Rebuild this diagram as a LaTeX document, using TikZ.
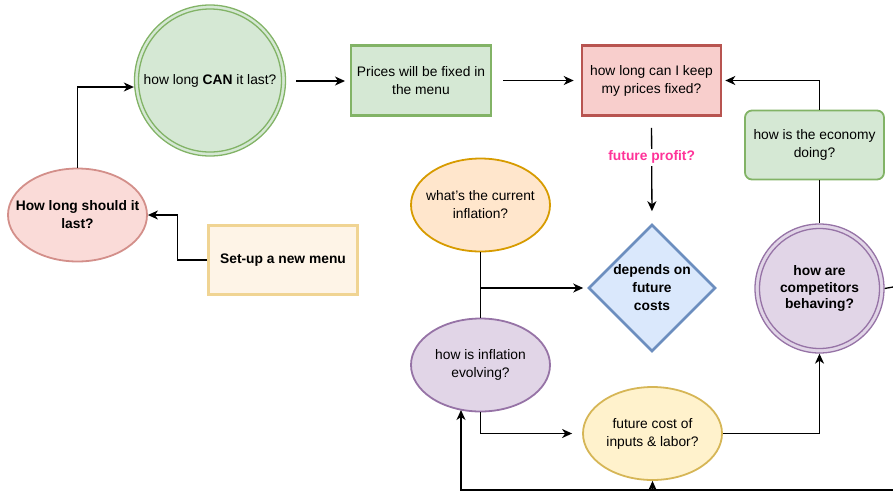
\documentclass[tikz,border=0pt]{standalone}
\usepackage{fontspec}
\setmainfont{Liberation Sans}
\usetikzlibrary{shapes.geometric,arrows.meta,calc}

\definecolor{gFill}{HTML}{D5E8D4}\definecolor{gLine}{HTML}{82B366}
\definecolor{rFill}{HTML}{F8CECC}\definecolor{rLine}{HTML}{B85450}
\definecolor{pkFill}{HTML}{FADBD8}\definecolor{pkLine}{HTML}{D38F8A}
\definecolor{sFill}{HTML}{FEF4E7}\definecolor{sLine}{HTML}{F0D493}
\definecolor{oFill}{HTML}{FFE6CC}\definecolor{oLine}{HTML}{D79B00}
\definecolor{vFill}{HTML}{E1D5E7}\definecolor{vLine}{HTML}{9673A6}
\definecolor{yFill}{HTML}{FFF2CC}\definecolor{yLine}{HTML}{D6B656}
\definecolor{bFill}{HTML}{DAE8FC}\definecolor{bLine}{HTML}{6C8EBF}
\definecolor{hot}{HTML}{FF3399}

\begin{document}
\begin{tikzpicture}[x=1pt,y=-1pt,
  font=\fontsize{13.8}{18}\selectfont,
  every node/.style={align=center, inner sep=0pt},
  arr/.style={-{Stealth[length=10pt,width=9pt,inset=3pt]}, line width=1.3pt},
  wire/.style={line width=1.3pt},
  box/.style={rectangle, line width=2.6pt, minimum width=140pt, minimum height=70pt},
  oval/.style={ellipse, line width=1.8pt, minimum width=139pt, minimum height=93pt, inner xsep=-25pt, inner ysep=-8pt},
  ring/.style={circle, line width=1.3pt, inner sep=-20pt},
]
\useasboundingbox (0,0) rectangle (893,491);

% nodes
\node[ring, draw=gLine, fill=gFill, minimum size=151pt] (can) at (210,80.5) {how long \textbf{CAN} it last?};
\draw[gLine, line width=1.3pt] (can.center) circle (71.5);

\node[oval, draw=pkLine, fill=pkFill] (should) at (77.5,215) {\textbf{How long should it}\\\textbf{last?}};

\node[box, draw=sLine, fill=sFill, minimum width=149pt, minimum height=69pt] (setup) at (283,260) {\textbf{Set-up a new menu}};

\node[box, draw=gLine, fill=gFill] (prices) at (421,80.5) {Prices will be fixed in\\the menu};

\node[box, draw=rLine, fill=rFill, minimum width=139pt] (keep) at (651.5,80.5) {how long can I keep\\my prices fixed?};

\node[rectangle, rounded corners=7pt, line width=1.8pt, draw=gLine, fill=gFill,
      minimum width=139pt, minimum height=69pt] (econ) at (814.5,145) {how is the economy\\doing?};

\node[oval, draw=oLine, fill=oFill] (cur) at (480.5,205) {what{\char39}s the current\\inflation?};

\node[diamond, aspect=1, line width=2.6pt, draw=bLine, fill=bFill, minimum size=127pt, inner sep=-6pt] (dep) at (652,288)
  {\textbf{depends on}\\\textbf{future}\\\textbf{costs}};

\node[oval, draw=vLine, fill=vFill] (evo) at (480.5,365) {how is inflation\\evolving?};

\node[oval, draw=yLine, fill=yFill] (fut) at (652.5,433.5) {future cost of\\inputs \& labor?};

\node[ring, draw=vLine, fill=vFill, minimum size=129pt, font=\fontsize{13.8}{16.5}\selectfont] (comp) at (819.5,288.5)
  {\textbf{how are}\\\textbf{competitors}\\\textbf{behaving?}};
\draw[vLine, line width=1.3pt] (comp.center) circle (60);

% free ends of connectors
\coordinate (canIn) at ($(can.west)+(0,6.5)$);
\coordinate (canOut) at (296,81);
\coordinate (pricesIn) at (345,81);
\coordinate (evoHit) at (461,410);
\coordinate (rightEdge) at (893,287);
\coordinate (bottomEdge) at (893,490);

% connectors
\draw[arr] (should.north) |- (canIn);
\draw[arr] (setup.west) -- ++(-30,0) |- (should.east);
\draw[arr] (canOut) -- (pricesIn);
\draw[arr, shorten <=11pt, shorten >=7pt] (prices.east) -- (keep.west);
\draw[arr, shorten >=3pt] (econ.north -| comp.center) |- (keep.east);
\draw[arr, shorten <=11pt, shorten >=12pt] (keep.south) --
  node[pos=0.38, fill=white, inner sep=2pt, text=hot, font=\fontsize{13.8}{17}\selectfont\bfseries] {future profit?}
  (dep.north);
\draw[wire] (cur.south) -- (evo.north);
\draw[arr, shorten >=4pt] (cur.south |- dep.west) -- (dep.west);
\draw[arr, shorten >=10pt] (evo.south) |- (fut.west);
\draw[arr] (fut.east) -| (comp.south);
\draw[wire] (econ.south -| comp.center) -- (comp.north);
\draw[wire] (comp.east) -- (rightEdge);
\draw[arr] (bottomEdge) -| (evoHit);
\draw[arr] (bottomEdge) -| (fut.south);
\end{tikzpicture}
\end{document}
